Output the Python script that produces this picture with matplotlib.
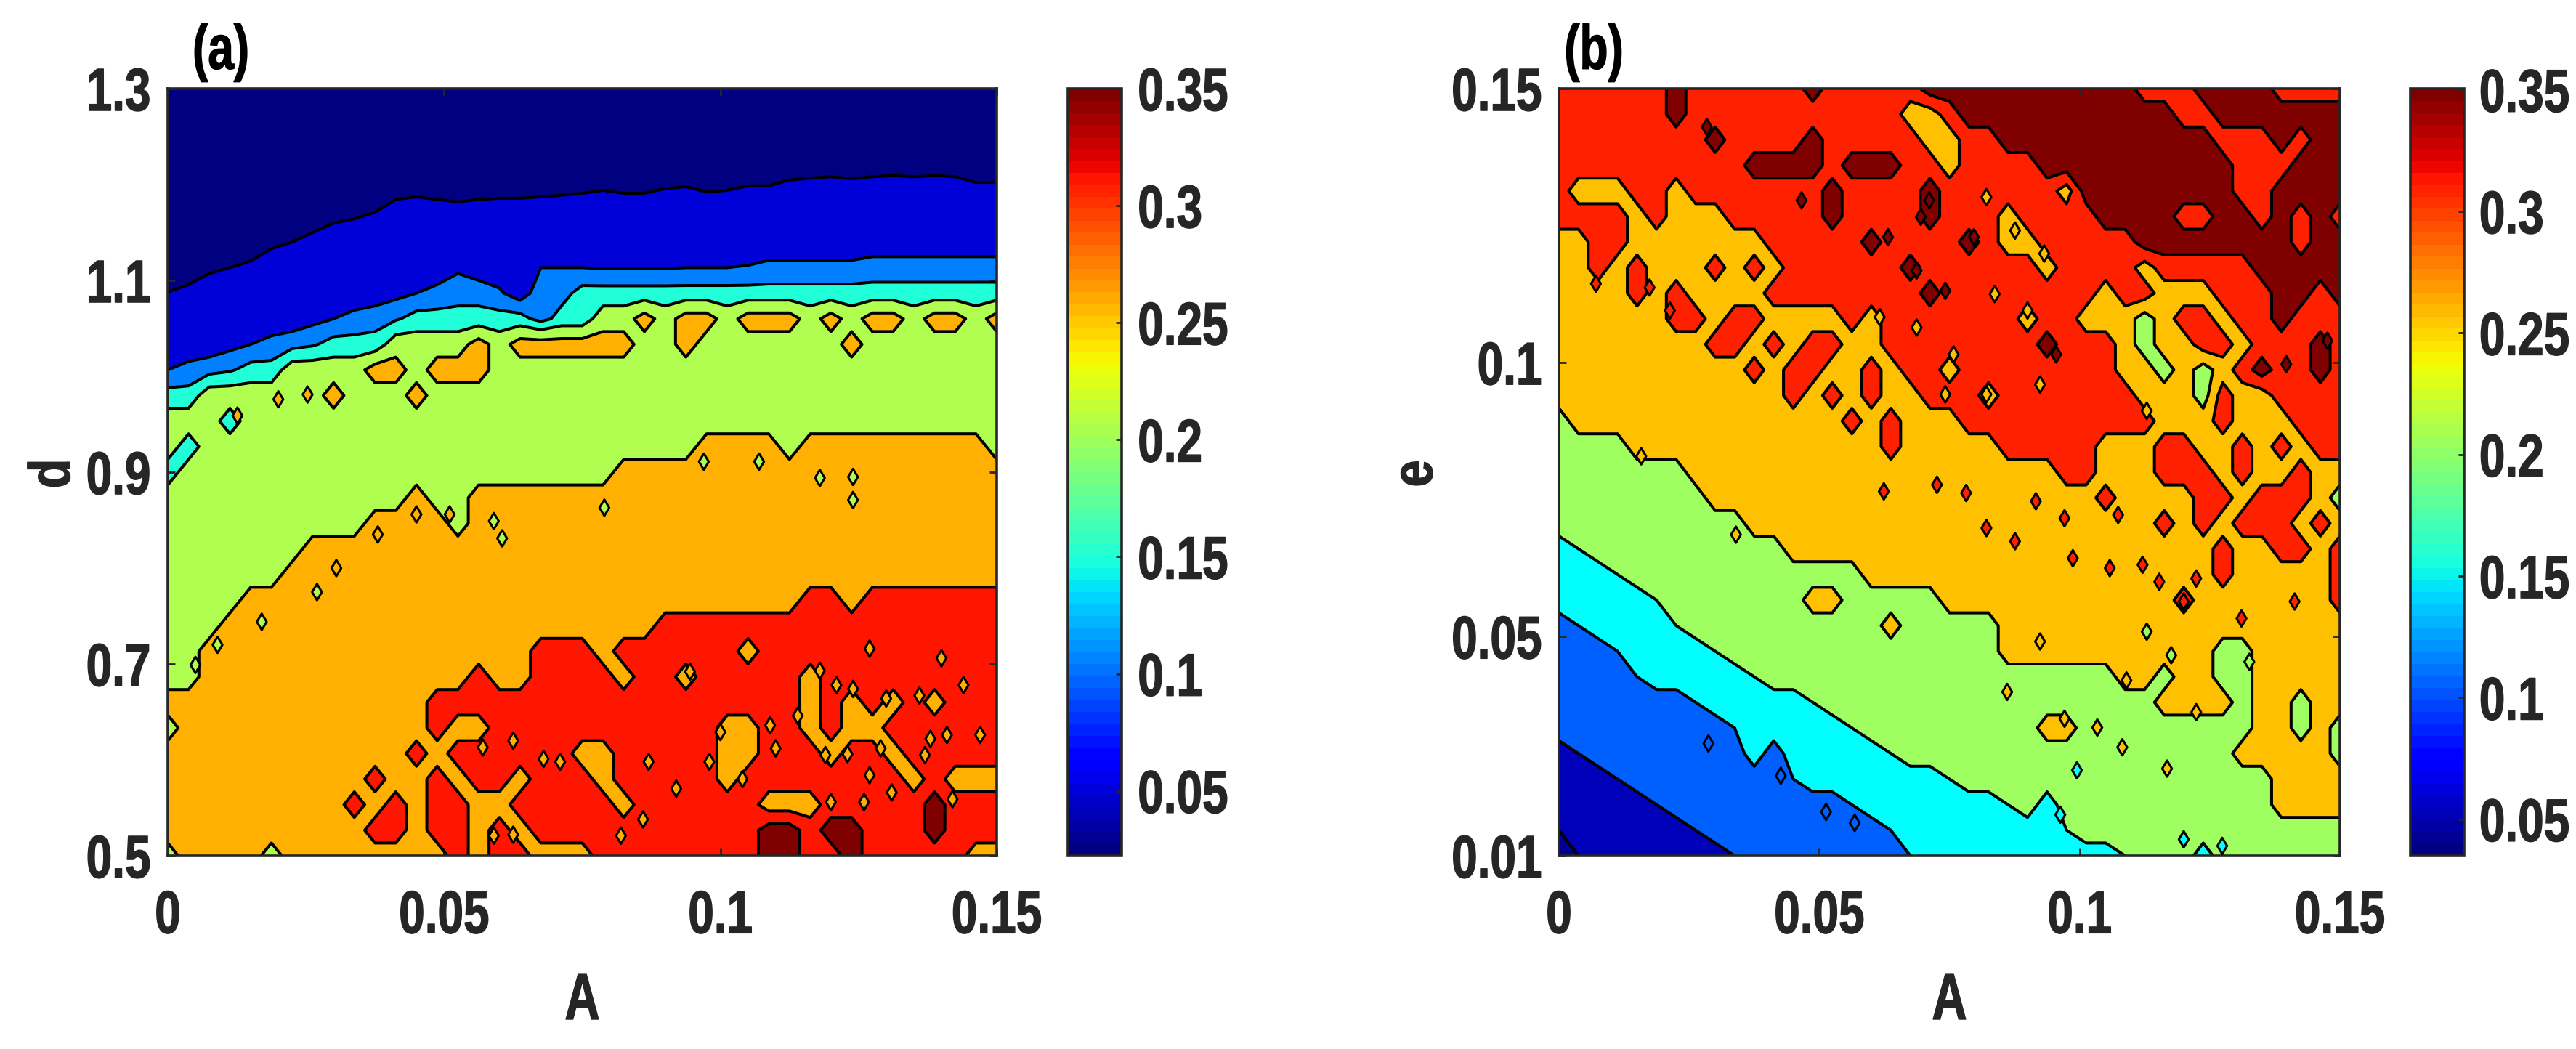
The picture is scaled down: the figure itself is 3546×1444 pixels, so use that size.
import numpy as np
import matplotlib
matplotlib.use("Agg")
import matplotlib.pyplot as plt
from matplotlib.cm import ScalarMappable
from matplotlib.colors import Normalize
from matplotlib.patheffects import AbstractPathEffect
from matplotlib.transforms import Affine2D

N, B, L, C, G, O, R, D = 3, 7, 11, 14, 20, 25, 30, 35

panel_a_rows = [
 [N]*41,
 [N]*41,
 [N]*41,
 [N]*41,
 [N]*11+[4,4.4,4,3.5,4,4.2,4.2,4.4,4.6,4.8,5.05,4.8,4.8,5.2,5.4,4.9,5.05,5.5,5.5,6.5,7,7.5,6.8,7.5,8,7.5,8,7.5,6,6],
 [N]*7+[3.5,4.3,4.8,5.4]+[B]*30,
 [N]*5+[4.3,5,5.9]+[B]*33,
 [N]*2+[4.4,5,5.7]+[B]*9+[8.4]+[B]*3+[9,9,9,8.8,8.8,8.8,8.8,9,9,9,9.2]+[9.8]*5+[10.5]*7,
 [5.1,6]+[B]*9+[8,9,10,L,L,9.5]+[B]+[L]*2+[C]*21,
 [B]*7+[8,9,10,L,12]+[C]*6+[L]+[C]*2+[G]*2+[O]+[G]+[O]*2+[G]+[O]*3+[G]+[O]+[G]+[O]*2+[G]+[O]*2+[G]+[O],
 [B]*3+[8,9,10,L,12]+[C]*3+[G]*4+[O]+[G]+[O]*6+[G]*2+[O]+[G]*7+[O]+[G]*7,
 [9,10,L,12,C,C]+[G]*4+[O]*2+[G]+[O]*3+[G]*25,
 [C]*2+[G]*6+[O]+[G]*3+[O]+[G]*28,
 [G]*3+[C]+[G]*37,
 [G]+[C]+[G]*24+[O]*4+[G]+[O]*9+[G],
 [C]+[G]*21+[O]*19,
 [G]*12+[O]+[G]*2+[O]*26,
 [G]*10+[O]*4+[G]+[O]*26,
 [G]*7+[O]*34,
 [G]*6+[O]*35,
 [G]*4+[O]*27+[R]*2+[O]+[R]*7,
 [G]*3+[O]*21+[R]*17,
 [G]*2+[O]*16+[R]*3+[O]+[R]*6+[O]+[R]*12,
 [G]*2+[O]*13+[R]+[O]*2+[R]*4+[O]+[R]*2+[O]+[R]*5+[O]+[R]*9,
 [O]*13+[R]*18+[O]+[R]+[O]+[R]+[O]+[R]+[O]+[R]*3,
 [G]+[O]*12+[R]+[O]*2+[R]*11+[O]*2+[R]*2+[O]+[R]+[O]*2+[R]*6,
 [O]*12+[R]+[O]+[R]*6+[O]*2+[R]*5+[O]*2+[R]*3+[O]+[R]*2+[O]+[R]*5,
 [O]*10+[R]+[O]*2+[R]+[O]+[R]*2+[O]+[R]*3+[O]+[R]*5+[O]+[R]*8+[O]+[R]+[O]*3,
 [O]*9+[R]+[O]+[R]+[O]+[R]*2+[O]*2+[R]*5+[O]+[R]*6+[O]*3+[R]*5+[D]+[R]*3,
 [O]*10+[R]*2+[O]+[R]*2+[O]+[R]+[O]+[R]*11+[D]*2+[R]+[D]*2+[R]*3+[D]+[R]*3,
 [G]+[O]*4+[G]+[O]*8+[R]+[O]+[R]*2+[O]*3+[R]*8+[D]*2+[R]*2+[D]+[R]*5+[O]*2,
]

panel_b_rows = [
 [R]*6+[D]+[R]*6+[D]+[R]*5+[D]*11+[R]*3+[D]*4+[R]*4,
 [R]*6+[D]+[R]*11+[O]*2+[R]+[D]*11+[R]*2+[D]*7,
 [R]*8+[D]+[R]*4+[D]+[R]*5+[O]*2+[R]*2+[D]*11+[R]*3+[D]+[R]+[D]*2,
 [R]*10+[D]*4+[R]+[D]*3+[R]*2+[O]+[R]*4+[D]*10+[R]*3+[D]*3,
 [R]+[O]*3+[R]*2+[O]+[R]*7+[D]+[R]*4+[D]+[R]*6+[O]+[D]*8+[R]*2+[D]*4,
 [R]*2+[R]*2+[O]+[R]+[O]*3+[R]*5+[D]+[R]*4+[D]+[R]*3+[O]+[R]*4+[D]*4+[R]*2+[D]*2+[R]+[D]+[R]+[D]+[R],
 [O]*2+[R]*2+[O]*7+[R]*5+[D]+[R]*4+[D]+[R]+[O]*2+[R]*5+[D]*8+[R]+[D]*2,
 [O]*2+[R]+[O]+[R]+[O]*3+[R]+[O]+[R]+[O]+[R]*6+[D]+[R]*6+[O]+[R]*4+[O]+[R]*5+[D]*5,
 [O]*4+[R]+[O]+[R]+[O]*4+[R]*8+[D]+[R]*8+[O]+[R]*2+[O]*3+[R]*3+[D]*2+[R]+[D],
 [O]*6+[R]*2+[O]+[R]*2+[O]*4+[R]+[O]+[R]*7+[O]+[R]*2+[O]*3+[G]+[O]+[R]*2+[O]+[R]*2+[D]+[R]*3,
 [O]*8+[R]*2+[O]+[R]+[O]+[R]*2+[O]*2+[R]*8+[D]+[R]*3+[O]+[G]+[O]*2+[R]*2+[O]+[R]*3+[D]+[R],
 [O]*10+[R]+[O]+[R]*2+[O]*2+[R]+[O]+[R]*2+[O]+[R]*8+[O]*2+[G]+[O]+[G]+[O]+[R]+[D]+[R]*2+[D]+[R],
 [O]*12+[R]+[O]+[R]+[O]+[R]+[O]*2+[R]*3+[O]+[R]*7+[O]*3+[G]+[R]+[O]*2+[R]*4,
 [G]+[O]*14+[R]+[O]+[R]+[O]*3+[R]*10+[O]*3+[R]+[O]*3+[R]*3,
 [G]*4+[O]*13+[R]+[O]*5+[R]*5+[O]*3+[R]*2+[O]*2+[R]+[O]+[R]+[O]+[R]*2,
 [G]*7+[O]*19+[R]*2+[O]*3+[R]*3+[O]+[R]+[O]*2+[R]+[O]*2,
 [G]*8+[O]*20+[R]+[O]*4+[R]*2+[O]+[R]*3+[O]+[G],
 [G]*10+[O]*21+[R]+[O]+[R]+[O]+[R]*3+[O]+[R]+[O],
 [C,17]+[G]*10+[O]*22+[R]+[O]*2+[R]*2+[O]+[R],
 [C]*3+[17]+[G]*12+[O]*18+[R]+[O]*5+[R],
 [C]*5+[17]+[G]*7+[O]*2+[G]*5+[O]*12+[R]+[O]*7+[R],
 [L,12.5]+[C]*4+[17]+[G]*10+[O]+[G]*5+[O]*18,
 [L]*3+[12.5]+[C]*4+[17]+[G]*14+[O]*11+[G]*2+[O]*5,
 [L]*4+[12.5]+[C]*5+[17]+[G]*18+[O]*2+[G]+[O]*2+[G]*2+[O]*5,
 [L]*7+[12.5]+[C]*5+[17]+[G]*17+[O]*4+[G]+[O]*2+[G]+[O]*2,
 [L]*9+[12.5]+[C]*5+[17]+[G]*9+[O]*2+[G]*9+[O]*2+[G]+[O]+[G],
 [B,9]+[L]*8+[C]+[L]+[C]*5+[17]+[G]*17+[O]*5+[G],
 [B]*3+[9]+[L]*8+[12.5]+[C]*7+[17]+[G]*16+[O]*4,
 [B]*5+[9]+[L]*9+[12.5]+[C]*7+[17]+[G]+[C]+[G]*11+[O]*4,
 [5]+[B]*6+[9]+[L]*9+[12.5]+[C]*8+[17]+[G]*14,
 [N,5]+[B]*7+[9]+[L]*8+[12.5]+[C]*10+[17]+[G]*3+[C]+[G]*7,
]

# small isolated patches too fine for the grid: position and band value
a_speck_A = [.0945,.118,.121,.127,.14,.144,.13,.114,.136,.109,.124,.11,.119,.123,.129,.138,.147,.068,.071,.0625,
             .057,.098,.1,.141,.087,.092,.104,.127,.131,.12,.126,.142,.059,.0625,.082,.086,.137,
             .0253,.02,.0126,.0305,.038,.045,.051,
             .097,.118,.124,.124,.079,.0605,.059,.107,.017,.009,.027,.005]
a_speck_d = [.692,.693,.678,.716,.706,.678,.664,.646,.667,.636,.674,.612,.605,.606,.612,.622,.626,.601,.598,.62,
             .613,.598,.629,.626,.598,.57,.58,.584,.566,.556,.556,.559,.521,.522,.521,.538,.605,
             .981,.976,.959,.8,.835,.856,.856,
             .911,.894,.895,.871,.863,.831,.849,.911,.744,.72,.775,.699]
a_speck_v = [O]*37 + [O]*7 + [G]*12

b_speck_A = [.0624,.0726,.0782,.0821,.0916,.0971,.0987,.0876,.1074,.1224,.1121,.12,.1413,.1311,.1058,.1153,
             .0876,.0932,.0742,.0821,.0758,.09,.0924,.0821,.0837,.0616,.0687,.1129,
             .0284,.0711,.0695,.0797,.0742,.0687,.0632,.0466,.0955,.1397,.1476,
             .0071,.0174,.0213,
             .0158,.034,.109,.0971,.1034,.1082,.1224,.1168,.0924,.0861,
             .1129,.1176,.1326,
             .12,.1274,.0963,.0995,
             .0287,.0426,.0568,.0513]
b_speck_e = [.0765,.0777,.0762,.0698,.0747,.0716,.0643,.0674,.0722,.0606,.0631,.0564,.0564,.0533,.0625,.06,
             .1241,.1199,.0942,.0942,.1015,.1095,.096,.1302,.1125,.1083,.1064,.0912,
             .143,.1296,.1266,.1229,.1131,.1168,.1229,.1296,.1015,.0997,.104,
             .1144,.1137,.1095,
             .0829,.0686,.042,.035,.0334,.0298,.0362,.0259,.0491,.0399,
             .0509,.0466,.0454,
             .013,.0118,.0175,.0256,
             .0305,.0246,.016,.018]
b_speck_v = [R]*16 + [O]*12 + [D]*11 + [R]*3 + [O]*10 + [G]*3 + [C]*4 + [L]*4

a_values = np.array(panel_a_rows, dtype=float) / 100.0
b_values = np.array(panel_b_rows, dtype=float) / 100.0
band_levels = [0.0, 0.05, 0.09, 0.125, 0.17, 0.225, 0.275, 0.325, 0.40]
line_levels = band_levels[1:-1]
a_colors = ['#000080', '#0000d8', '#0080ff', '#20ffd8', '#b0ff50', '#ffb000', '#ff1500', '#800000']
b_colors = ['#000090', '#0000b8', '#0060ff', '#00ffff', '#a0ff60', '#ffc000', '#ff2000', '#800000']
band_codes = [N, B, L, C, G, O, R, D]
a_x_ticks = [0, 0.05, 0.1, 0.15]
a_y_ticks = [0.5, 0.7, 0.9, 1.1, 1.3]
b_y_ticks = [0.01, 0.05, 0.1, 0.15]
bar_ticks = [0.05, 0.1, 0.15, 0.2, 0.25, 0.3, 0.35]

W, H = 3546, 1444
plt.rcParams['font.family'] = ['Liberation Sans', 'DejaVu Sans']
plt.rcParams['font.weight'] = 'bold'
SPINE = '#262626'


class Tall(AbstractPathEffect):
    """Stretch and slightly embolden glyphs (the reference text is stretched)."""
    def __init__(self, sy, stroke=1.0):
        super().__init__()
        self.sy = sy
        self.stroke = stroke

    def draw_path(self, renderer, gc, tpath, affine, rgbFace=None):
        ys = tpath.vertices[:, 1]
        cy = (ys.min() + ys.max()) / 2
        t = Affine2D().translate(0, -cy).scale(1, self.sy).translate(0, cy)
        gc0 = renderer.new_gc()
        gc0.copy_properties(gc)
        gc0.set_linewidth(self.stroke)
        gc0.set_foreground(rgbFace)
        renderer.draw_path(gc0, tpath, t + affine, rgbFace)
        gc0.restore()


def box(x0, y0, x1, y1):
    return [x0 / W, 1 - y1 / H, (x1 - x0) / W, (y1 - y0) / H]


def fmt(v):
    return f'{v:g}'


fig = plt.figure(figsize=(W / 100, H / 100), dpi=100, facecolor='white')


def panel(pos, cpos, values, colors, ys, ylim, yticks, ylabel, tag, vmin, vmax, sx, sy, sv, bar_pad, label_x, tag_x):
    ax = fig.add_axes(box(*pos))
    xs = np.linspace(0, 0.15, values.shape[1])
    ax.contourf(xs, ys, values, levels=band_levels, colors=colors)
    ax.contour(xs, ys, values, levels=line_levels, colors='black', linewidths=2.9)
    speck_colors = [colors[band_codes.index(v)] for v in sv]
    ax.scatter(sx, sy, s=130, marker='d', c=speck_colors, edgecolors='black', linewidths=2.2, zorder=3, clip_on=True)
    ax.set_xlim(0, 0.15)
    ax.set_ylim(*ylim)
    ax.set_xticks(a_x_ticks, [fmt(v) for v in a_x_ticks])
    ax.set_yticks(yticks, [fmt(v) for v in yticks])
    ax.tick_params(direction='in', top=True, right=True, length=7, width=2, color=SPINE,
                   labelsize=46, labelcolor='#262626', pad=17)
    ax.tick_params(axis='x', pad=38)
    for lab in ax.get_xticklabels() + ax.get_yticklabels():
        lab.set_path_effects([Tall(1.3)])
    for s in ax.spines.values():
        s.set_linewidth(2.6)
        s.set_color(SPINE)
    cx = (pos[0] + pos[2]) / 2 / W
    fig.text(cx, 1 - 1378 / H, 'A', ha='center', va='center', fontsize=48, color='#262626',
             path_effects=[Tall(1.35)])
    fig.text(label_x / W, 1 - 652 / H, ylabel, rotation=90, ha='center', va='center', fontsize=48,
             color='#262626', path_effects=[Tall(1.2)])
    fig.text(tag_x / W, 1 - 72 / H, tag, ha='center', va='center', fontsize=46, color='black',
             path_effects=[Tall(1.35)])
    cax = fig.add_axes(box(*cpos))
    sm = ScalarMappable(Normalize(vmin, vmax), plt.get_cmap('jet', 64))
    cb = fig.colorbar(sm, cax=cax)
    cb.set_ticks(bar_ticks, labels=[fmt(v) for v in bar_ticks])
    cb.ax.tick_params(direction='in', length=6, width=2, color=SPINE, labelsize=46,
                      labelcolor='#262626', pad=bar_pad)
    for lab in cb.ax.get_yticklabels():
        lab.set_path_effects([Tall(1.3)])
    cb.outline.set_linewidth(2.6)
    cb.outline.set_edgecolor(SPINE)


panel((231, 122, 1372, 1178), (1470, 122, 1544, 1178), a_values, a_colors,
      np.linspace(1.3, 0.5, a_values.shape[0]), (0.5, 1.3), a_y_ticks, 'd', '(a)', 0.0223, 0.35,
      a_speck_A, a_speck_d, a_speck_v, 16, 74, 304)
panel((2146, 122, 3221, 1178), (3318, 122, 3392, 1178), b_values, b_colors,
      np.linspace(0.15, 0.01, b_values.shape[0]), (0.01, 0.15), b_y_ticks, 'e', '(b)', 0.035, 0.3505,
      b_speck_A, b_speck_e, b_speck_v, 15, 1951, 2194)

fig.savefig('out.png', dpi=100, facecolor='white')
